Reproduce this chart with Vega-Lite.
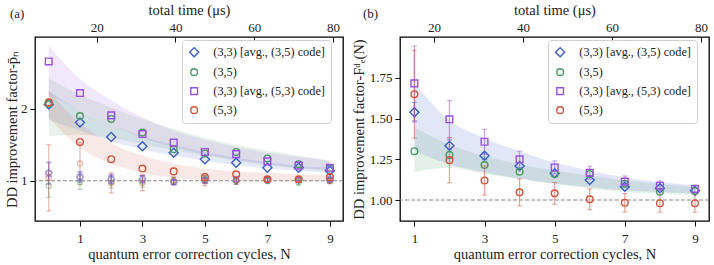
{
  "$schema": "https://vega.github.io/schema/vega-lite/v6.json",
  "background": "white",
  "padding": {"left": 3, "top": 1, "right": 0, "bottom": 0},
  "spacing": 5,
  "resolve": {"scale": {"color": "independent", "shape": "independent", "fill": "independent", "stroke": "independent"}},
  "config": {
    "font": "Liberation Serif",
    "view": {"stroke": "black", "strokeWidth": 1.3},
    "axis": {"grid": false, "domain": false, "tickColor": "black", "tickWidth": 1, "tickSize": 5,
      "labelFont": "Liberation Serif", "titleFont": "Liberation Serif", "labelFontSize": 13, "titleFontSize": 14.5,
      "titleFontWeight": "normal", "labelColor": "#222", "titleColor": "#222"},
    "legend": {"labelFont": "Liberation Serif"},
    "title": {"font": "Liberation Serif", "fontSize": 13, "fontWeight": "normal", "color": "#222"}
  },
  "datasets": {
    "timeTicks": [{"t": 20}, {"t": 40}, {"t": 60}, {"t": 80}],
    "one": [{"y": 1}],
    "bandA": [
      {"s":"b","N":0,"lo":1.85,"hi":2.25},{"s":"b","N":1,"lo":1.70,"hi":1.98},{"s":"b","N":2,"lo":1.55,"hi":1.78},{"s":"b","N":3,"lo":1.44,"hi":1.62},{"s":"b","N":4,"lo":1.35,"hi":1.50},{"s":"b","N":5,"lo":1.28,"hi":1.40},{"s":"b","N":6,"lo":1.22,"hi":1.32},{"s":"b","N":7,"lo":1.17,"hi":1.26},{"s":"b","N":8,"lo":1.14,"hi":1.21},{"s":"b","N":9,"lo":1.11,"hi":1.18},
      {"s":"g","N":0,"lo":1.62,"hi":2.42},{"s":"g","N":1,"lo":1.64,"hi":2.20},{"s":"g","N":2,"lo":1.60,"hi":2.02},{"s":"g","N":3,"lo":1.51,"hi":1.86},{"s":"g","N":4,"lo":1.43,"hi":1.72},{"s":"g","N":5,"lo":1.35,"hi":1.60},{"s":"g","N":6,"lo":1.28,"hi":1.50},{"s":"g","N":7,"lo":1.22,"hi":1.42},{"s":"g","N":8,"lo":1.17,"hi":1.35},{"s":"g","N":9,"lo":1.14,"hi":1.28},
      {"s":"p","N":0,"lo":2.20,"hi":2.88},{"s":"p","N":1,"lo":1.98,"hi":2.42},{"s":"p","N":2,"lo":1.78,"hi":2.12},{"s":"p","N":3,"lo":1.60,"hi":1.88},{"s":"p","N":4,"lo":1.47,"hi":1.70},{"s":"p","N":5,"lo":1.37,"hi":1.57},{"s":"p","N":6,"lo":1.29,"hi":1.47},{"s":"p","N":7,"lo":1.23,"hi":1.39},{"s":"p","N":8,"lo":1.18,"hi":1.33},{"s":"p","N":9,"lo":1.15,"hi":1.28},
      {"s":"r","N":0,"lo":1.88,"hi":2.25},{"s":"r","N":1,"lo":1.46,"hi":1.80},{"s":"r","N":2,"lo":1.24,"hi":1.52},{"s":"r","N":3,"lo":1.11,"hi":1.35},{"s":"r","N":4,"lo":1.04,"hi":1.24},{"s":"r","N":5,"lo":1.01,"hi":1.17},{"s":"r","N":6,"lo":1.00,"hi":1.13},{"s":"r","N":7,"lo":0.99,"hi":1.11},{"s":"r","N":8,"lo":0.99,"hi":1.09},{"s":"r","N":9,"lo":0.99,"hi":1.08}
    ],
    "ptsA": [
      {"s":"b","N":0,"v":2.06},{"s":"b","N":1,"v":1.81},{"s":"b","N":2,"v":1.61},{"s":"b","N":3,"v":1.48},{"s":"b","N":4,"v":1.39},{"s":"b","N":5,"v":1.30},{"s":"b","N":6,"v":1.25},{"s":"b","N":7,"v":1.18},{"s":"b","N":8,"v":1.18},{"s":"b","N":9,"v":1.14},
      {"s":"g","N":0,"v":2.07},{"s":"g","N":1,"v":1.90},{"s":"g","N":2,"v":1.86},{"s":"g","N":3,"v":1.67},{"s":"g","N":4,"v":1.44},{"s":"g","N":5,"v":1.38},{"s":"g","N":6,"v":1.40},{"s":"g","N":7,"v":1.31},{"s":"g","N":8,"v":1.23},{"s":"g","N":9,"v":1.17},
      {"s":"p","N":0,"v":2.66},{"s":"p","N":1,"v":2.22},{"s":"p","N":2,"v":1.91},{"s":"p","N":3,"v":1.65},{"s":"p","N":4,"v":1.53},{"s":"p","N":5,"v":1.40},{"s":"p","N":6,"v":1.37},{"s":"p","N":7,"v":1.27},{"s":"p","N":8,"v":1.21},{"s":"p","N":9,"v":1.18},
      {"s":"r","N":0,"v":2.09},{"s":"r","N":1,"v":1.54},{"s":"r","N":2,"v":1.30},{"s":"r","N":3,"v":1.17},{"s":"r","N":4,"v":1.13},{"s":"r","N":5,"v":1.05},{"s":"r","N":6,"v":1.09},{"s":"r","N":7,"v":1.02},{"s":"r","N":8,"v":1.02},{"s":"r","N":9,"v":1.05}
    ],
    "faintA": [
      {"s":"b","N":0,"v":1.11,"lo":0.96,"hi":1.26},{"s":"b","N":1,"v":1.05,"lo":0.98,"hi":1.12},{"s":"b","N":2,"v":1.02,"lo":0.96,"hi":1.08},{"s":"b","N":3,"v":1.02,"lo":0.97,"hi":1.07},{"s":"b","N":4,"v":0.98,"lo":0.95,"hi":1.01},{"s":"b","N":5,"v":1.01,"lo":0.97,"hi":1.05},{"s":"b","N":6,"v":1.00,"lo":0.97,"hi":1.03},{"s":"b","N":7,"v":1.01,"lo":0.98,"hi":1.04},{"s":"b","N":8,"v":1.01,"lo":0.98,"hi":1.04},{"s":"b","N":9,"v":1.01,"lo":0.98,"hi":1.04},
      {"s":"g","N":0,"v":0.93,"lo":0.77,"hi":1.09},{"s":"g","N":1,"v":0.98,"lo":0.88,"hi":1.08},{"s":"g","N":2,"v":0.98,"lo":0.90,"hi":1.06},{"s":"g","N":3,"v":0.99,"lo":0.91,"hi":1.07},{"s":"g","N":4,"v":1.00,"lo":0.95,"hi":1.05},{"s":"g","N":5,"v":1.02,"lo":0.97,"hi":1.07},{"s":"g","N":6,"v":1.00,"lo":0.95,"hi":1.05},{"s":"g","N":7,"v":1.00,"lo":0.96,"hi":1.04},{"s":"g","N":8,"v":0.98,"lo":0.94,"hi":1.02},{"s":"g","N":9,"v":1.00,"lo":0.96,"hi":1.04},
      {"s":"p","N":0,"v":1.10,"lo":0.95,"hi":1.25},{"s":"p","N":1,"v":1.06,"lo":0.99,"hi":1.13},{"s":"p","N":2,"v":1.03,"lo":0.97,"hi":1.09},{"s":"p","N":3,"v":1.03,"lo":0.98,"hi":1.08},{"s":"p","N":4,"v":0.98,"lo":0.95,"hi":1.01},{"s":"p","N":5,"v":1.00,"lo":0.96,"hi":1.04},{"s":"p","N":6,"v":1.02,"lo":0.99,"hi":1.05},{"s":"p","N":7,"v":1.02,"lo":0.99,"hi":1.05},{"s":"p","N":8,"v":1.01,"lo":0.98,"hi":1.04},{"s":"p","N":9,"v":1.02,"lo":0.99,"hi":1.05},
      {"s":"r","N":0,"v":1.04,"lo":0.58,"hi":1.50},{"s":"r","N":1,"v":1.24,"lo":0.95,"hi":1.53},{"s":"r","N":2,"v":0.97,"lo":0.83,"hi":1.11},{"s":"r","N":3,"v":0.97,"lo":0.86,"hi":1.08},{"s":"r","N":4,"v":1.00,"lo":0.95,"hi":1.05},{"s":"r","N":5,"v":1.00,"lo":0.93,"hi":1.07},{"s":"r","N":6,"v":1.00,"lo":0.95,"hi":1.05},{"s":"r","N":7,"v":1.01,"lo":0.97,"hi":1.05},{"s":"r","N":8,"v":1.02,"lo":0.98,"hi":1.06},{"s":"r","N":9,"v":1.00,"lo":0.96,"hi":1.04}
    ],
    "bandB": [
      {"s":"b","N":1,"lo":1.30,"hi":1.72},{"s":"b","N":2,"lo":1.22,"hi":1.49},{"s":"b","N":3,"lo":1.17,"hi":1.38},{"s":"b","N":4,"lo":1.13,"hi":1.30},{"s":"b","N":5,"lo":1.10,"hi":1.23},{"s":"b","N":6,"lo":1.08,"hi":1.18},{"s":"b","N":7,"lo":1.06,"hi":1.14},{"s":"b","N":8,"lo":1.05,"hi":1.11},{"s":"b","N":9,"lo":1.04,"hi":1.09},
      {"s":"g","N":1,"lo":1.17,"hi":1.445},{"s":"g","N":2,"lo":1.20,"hi":1.34},{"s":"g","N":3,"lo":1.16,"hi":1.27},{"s":"g","N":4,"lo":1.13,"hi":1.22},{"s":"g","N":5,"lo":1.10,"hi":1.18},{"s":"g","N":6,"lo":1.07,"hi":1.15},{"s":"g","N":7,"lo":1.05,"hi":1.12},{"s":"g","N":8,"lo":1.04,"hi":1.10},{"s":"g","N":9,"lo":1.03,"hi":1.08}
    ],
    "ptsB": [
      {"s":"b","N":1,"v":1.54},{"s":"b","N":2,"v":1.334},{"s":"b","N":3,"v":1.272},{"s":"b","N":4,"v":1.209},{"s":"b","N":5,"v":1.164},{"s":"b","N":6,"v":1.123},{"s":"b","N":7,"v":1.082},{"s":"b","N":8,"v":1.072},{"s":"b","N":9,"v":1.057},
      {"s":"g","N":1,"v":1.30},{"s":"g","N":2,"v":1.277},{"s":"g","N":3,"v":1.215},{"s":"g","N":4,"v":1.174},{"s":"g","N":5,"v":1.16},{"s":"g","N":6,"v":1.16},{"s":"g","N":7,"v":1.10},{"s":"g","N":8,"v":1.051},{"s":"g","N":9,"v":1.055},
      {"s":"p","N":1,"v":1.717},{"s":"p","N":2,"v":1.496},{"s":"p","N":3,"v":1.358},{"s":"p","N":4,"v":1.25},{"s":"p","N":5,"v":1.20},{"s":"p","N":6,"v":1.168},{"s":"p","N":7,"v":1.113},{"s":"p","N":8,"v":1.088},{"s":"p","N":9,"v":1.068},
      {"s":"r","N":1,"v":1.65},{"s":"r","N":2,"v":1.245},{"s":"r","N":3,"v":1.12},{"s":"r","N":4,"v":1.047},{"s":"r","N":5,"v":1.041},{"s":"r","N":6,"v":1.004},{"s":"r","N":7,"v":0.983},{"s":"r","N":8,"v":0.98},{"s":"r","N":9,"v":0.98}
    ],
    "errB": [
      {"s":"b","N":1,"lo":1.48,"hi":1.60},{"s":"b","N":2,"lo":1.30,"hi":1.37},{"s":"b","N":3,"lo":1.25,"hi":1.29},
      {"s":"p","N":1,"lo":1.487,"hi":1.947},{"s":"p","N":2,"lo":1.381,"hi":1.611},{"s":"p","N":3,"lo":1.282,"hi":1.434},{"s":"p","N":4,"lo":1.20,"hi":1.30},{"s":"p","N":5,"lo":1.16,"hi":1.24},{"s":"p","N":6,"lo":1.128,"hi":1.208},{"s":"p","N":7,"lo":1.078,"hi":1.148},{"s":"p","N":8,"lo":1.058,"hi":1.118},{"s":"p","N":9,"lo":1.043,"hi":1.093},
      {"s":"r","N":1,"lo":1.38,"hi":1.92},{"s":"r","N":2,"lo":1.105,"hi":1.385},{"s":"r","N":3,"lo":1.03,"hi":1.21},{"s":"r","N":4,"lo":0.964,"hi":1.13},{"s":"r","N":5,"lo":0.974,"hi":1.108},{"s":"r","N":6,"lo":0.94,"hi":1.068},{"s":"r","N":7,"lo":0.926,"hi":1.04},{"s":"r","N":8,"lo":0.925,"hi":1.035},{"s":"r","N":9,"lo":0.925,"hi":1.035}
    ]
  },
  "hconcat": [
    {
      "width": 308, "height": 184,
      "title": {"text": "(a)", "anchor": "start", "frame": "group", "dx": -25, "dy": 23},
      "layer": [
        {
          "layer": [
            {
              "data": {"name": "bandA"},
              "mark": {"type": "area", "opacity": 0.13, "interpolate": "monotone"},
              "encoding": {
                "x": {"field": "N", "type": "quantitative", "scale": {"domain": [-0.44, 9.42], "nice": false, "zero": false},
                  "axis": {"values": [1, 3, 5, 7, 9], "title": "quantum error correction cycles, N", "labelPadding": 6, "titlePadding": 2}},
                "y": {"field": "lo", "type": "quantitative", "scale": {"domain": [0.44, 3.0], "nice": false, "zero": false},
                  "axis": {"values": [1, 2], "format": "d", "title": "DD improvement factor-p̄ₙ", "labelPadding": 3, "titlePadding": 1}},
                "y2": {"field": "hi"},
                "fill": {"field": "s", "type": "nominal", "scale": {"domain": ["r", "p", "g", "b"], "range": ["#d0543c", "#9b50e0", "#4c9a63", "#3b5fc8"]}, "legend": null},
                "detail": {"field": "s"}
              }
            },
            {
              "data": {"name": "one"},
              "mark": {"type": "rule", "strokeDash": [4, 2], "color": "#888", "strokeWidth": 1},
              "encoding": {"y": {"field": "y", "type": "quantitative"}}
            },
            {
              "data": {"name": "faintA"},
              "mark": {"type": "rule", "strokeWidth": 1, "opacity": 0.5},
              "encoding": {
                "x": {"field": "N", "type": "quantitative"},
                "y": {"field": "lo", "type": "quantitative"},
                "y2": {"field": "hi"},
                "stroke": {"field": "s", "type": "nominal", "scale": {"domain": ["r", "p", "g", "b"], "range": ["#d0543c", "#9b50e0", "#4c9a63", "#3b5fc8"]}, "legend": null}
              }
            },
            {
              "data": {"name": "faintA"},
              "mark": {"type": "tick", "orient": "horizontal", "size": 5, "thickness": 1, "opacity": 0.5},
              "encoding": {
                "x": {"field": "N", "type": "quantitative"},
                "y": {"field": "lo", "type": "quantitative"},
                "fill": {"field": "s", "type": "nominal", "legend": null}
              }
            },
            {
              "data": {"name": "faintA"},
              "mark": {"type": "tick", "orient": "horizontal", "size": 5, "thickness": 1, "opacity": 0.5},
              "encoding": {
                "x": {"field": "N", "type": "quantitative"},
                "y": {"field": "hi", "type": "quantitative"},
                "fill": {"field": "s", "type": "nominal", "legend": null}
              }
            },
            {
              "data": {"name": "faintA"},
              "transform": [{"filter": "datum.s == 'b'"}],
              "mark": {"type": "point", "filled": false, "opacity": 0.45, "size": 28, "strokeWidth": 1.2, "color": "#3b5fc8", "shape": "M0,-1.35L1.35,0L0,1.35L-1.35,0Z"},
              "encoding": {"x": {"field": "N", "type": "quantitative"}, "y": {"field": "v", "type": "quantitative"}}
            },
            {
              "data": {"name": "faintA"},
              "transform": [{"filter": "datum.s == 'g'"}],
              "mark": {"type": "point", "filled": false, "opacity": 0.45, "size": 28, "strokeWidth": 1.2, "color": "#4c9a63", "shape": "circle"},
              "encoding": {"x": {"field": "N", "type": "quantitative"}, "y": {"field": "v", "type": "quantitative"}}
            },
            {
              "data": {"name": "faintA"},
              "transform": [{"filter": "datum.s == 'p'"}],
              "mark": {"type": "point", "filled": false, "opacity": 0.45, "size": 28, "strokeWidth": 1.2, "color": "#9b50e0", "shape": "square"},
              "encoding": {"x": {"field": "N", "type": "quantitative"}, "y": {"field": "v", "type": "quantitative"}}
            },
            {
              "data": {"name": "faintA"},
              "transform": [{"filter": "datum.s == 'r'"}],
              "mark": {"type": "point", "filled": false, "opacity": 0.45, "size": 28, "strokeWidth": 1.2, "color": "#d0543c", "shape": "circle"},
              "encoding": {"x": {"field": "N", "type": "quantitative"}, "y": {"field": "v", "type": "quantitative"}}
            },
            {
              "data": {"name": "ptsA"},
              "mark": {"type": "point", "filled": false, "size": 45, "strokeWidth": 1.4, "opacity": 1},
              "encoding": {
                "x": {"field": "N", "type": "quantitative"},
                "y": {"field": "v", "type": "quantitative"},
                "color": {"field": "s", "type": "nominal", "scale": {"domain": ["b", "g", "p", "r"], "range": ["#3b5fc8", "#4c9a63", "#9b50e0", "#d0543c"]},
                  "legend": {"title": null, "orient": "none", "legendX": 147, "legendY": 3, "padding": 6, "rowPadding": 5, "labelOffset": 13,
                    "strokeColor": "#d0d0d0", "cornerRadius": 3, "fillColor": "rgba(255,255,255,0.85)", "symbolSize": 45, "symbolStrokeWidth": 1.4,
                    "labelFontSize": 12.3, "labelFont": "Liberation Serif", "labelColor": "#222",
                    "labelExpr": "datum.label == 'b' ? '(3,3) [avg., (3,5) code]' : datum.label == 'g' ? '(3,5)' : datum.label == 'p' ? '(3,3) [avg., (5,3) code]' : '(5,3)'"}},
                "shape": {"field": "s", "type": "nominal", "scale": {"domain": ["b", "g", "p", "r"], "range": ["M0,-1.35L1.35,0L0,1.35L-1.35,0Z", "circle", "square", "circle"]},
                  "legend": {"title": null, "orient": "none", "legendX": 147, "legendY": 3, "padding": 6, "rowPadding": 5, "labelOffset": 13,
                    "strokeColor": "#d0d0d0", "cornerRadius": 3, "fillColor": "rgba(255,255,255,0.85)", "symbolSize": 45, "symbolStrokeWidth": 1.4,
                    "labelFontSize": 12.3, "labelFont": "Liberation Serif", "labelColor": "#222",
                    "labelExpr": "datum.label == 'b' ? '(3,3) [avg., (3,5) code]' : datum.label == 'g' ? '(3,5)' : datum.label == 'p' ? '(3,3) [avg., (5,3) code]' : '(5,3)'"}}
              }
            }
          ]
        },
        {
          "data": {"name": "timeTicks"},
          "mark": {"type": "point", "opacity": 0},
          "encoding": {
            "x": {"field": "t", "type": "quantitative", "scale": {"domain": [4.33, 82.54], "nice": false, "zero": false},
              "axis": {"orient": "top", "values": [20, 40, 60, 80], "title": "total time (μs)", "tickSize": -5, "labelPadding": 8, "titlePadding": 4}}
          }
        }
      ],
      "resolve": {"scale": {"x": "independent"}}
    },
    {
      "width": 309, "height": 184,
      "title": {"text": "(b)", "anchor": "start", "frame": "group", "dx": -37, "dy": 23},
      "layer": [
        {
          "layer": [
            {
              "data": {"name": "bandB"},
              "mark": {"type": "area", "opacity": 0.15, "interpolate": "monotone"},
              "encoding": {
                "x": {"field": "N", "type": "quantitative", "scale": {"domain": [0.59, 9.4], "nice": false, "zero": false},
                  "axis": {"values": [1, 3, 5, 7, 9], "title": "quantum error correction cycles, N", "labelPadding": 6, "titlePadding": 2}},
                "y": {"field": "lo", "type": "quantitative", "scale": {"domain": [0.871, 2.002], "nice": false, "zero": false},
                  "axis": {"values": [1.0, 1.25, 1.5, 1.75], "format": ".2f", "title": "DD improvement factor-Fᵈₑ(N)", "labelPadding": 3, "titlePadding": 3}},
                "y2": {"field": "hi"},
                "fill": {"field": "s", "type": "nominal", "scale": {"domain": ["r", "p", "g", "b"], "range": ["#d0543c", "#9b50e0", "#4c9a63", "#3b5fc8"]}, "legend": null},
                "detail": {"field": "s"}
              }
            },
            {
              "data": {"name": "one"},
              "mark": {"type": "rule", "strokeDash": [4, 2], "color": "#888", "strokeWidth": 1},
              "encoding": {"y": {"field": "y", "type": "quantitative"}}
            },
            {
              "data": {"name": "errB"},
              "mark": {"type": "rule", "strokeWidth": 1.2, "opacity": 0.55},
              "encoding": {
                "x": {"field": "N", "type": "quantitative"},
                "y": {"field": "lo", "type": "quantitative"},
                "y2": {"field": "hi"},
                "stroke": {"field": "s", "type": "nominal", "scale": {"domain": ["r", "p", "g", "b"], "range": ["#d0543c", "#9b50e0", "#4c9a63", "#3b5fc8"]}, "legend": null}
              }
            },
            {
              "data": {"name": "errB"},
              "mark": {"type": "tick", "orient": "horizontal", "size": 5, "thickness": 1, "opacity": 0.55},
              "encoding": {
                "x": {"field": "N", "type": "quantitative"},
                "y": {"field": "lo", "type": "quantitative"},
                "fill": {"field": "s", "type": "nominal", "legend": null}
              }
            },
            {
              "data": {"name": "errB"},
              "mark": {"type": "tick", "orient": "horizontal", "size": 5, "thickness": 1, "opacity": 0.55},
              "encoding": {
                "x": {"field": "N", "type": "quantitative"},
                "y": {"field": "hi", "type": "quantitative"},
                "fill": {"field": "s", "type": "nominal", "legend": null}
              }
            },
            {
              "data": {"name": "ptsB"},
              "mark": {"type": "point", "filled": false, "size": 45, "strokeWidth": 1.4, "opacity": 1},
              "encoding": {
                "x": {"field": "N", "type": "quantitative"},
                "y": {"field": "v", "type": "quantitative"},
                "color": {"field": "s", "type": "nominal", "scale": {"domain": ["b", "g", "p", "r"], "range": ["#3b5fc8", "#4c9a63", "#9b50e0", "#d0543c"]},
                  "legend": {"title": null, "orient": "none", "legendX": 148, "legendY": 3, "padding": 6, "rowPadding": 5, "labelOffset": 13,
                    "strokeColor": "#d0d0d0", "cornerRadius": 3, "fillColor": "rgba(255,255,255,0.85)", "symbolSize": 45, "symbolStrokeWidth": 1.4,
                    "labelFontSize": 12.3, "labelFont": "Liberation Serif", "labelColor": "#222",
                    "labelExpr": "datum.label == 'b' ? '(3,3) [avg., (3,5) code]' : datum.label == 'g' ? '(3,5)' : datum.label == 'p' ? '(3,3) [avg., (5,3) code]' : '(5,3)'"}},
                "shape": {"field": "s", "type": "nominal", "scale": {"domain": ["b", "g", "p", "r"], "range": ["M0,-1.35L1.35,0L0,1.35L-1.35,0Z", "circle", "square", "circle"]},
                  "legend": {"title": null, "orient": "none", "legendX": 148, "legendY": 3, "padding": 6, "rowPadding": 5, "labelOffset": 13,
                    "strokeColor": "#d0d0d0", "cornerRadius": 3, "fillColor": "rgba(255,255,255,0.85)", "symbolSize": 45, "symbolStrokeWidth": 1.4,
                    "labelFontSize": 12.3, "labelFont": "Liberation Serif", "labelColor": "#222",
                    "labelExpr": "datum.label == 'b' ? '(3,3) [avg., (3,5) code]' : datum.label == 'g' ? '(3,5)' : datum.label == 'p' ? '(3,3) [avg., (5,3) code]' : '(5,3)'"}}
              }
            }
          ]
        },
        {
          "data": {"name": "timeTicks"},
          "mark": {"type": "point", "opacity": 0},
          "encoding": {
            "x": {"field": "t", "type": "quantitative", "scale": {"domain": [12.36, 81.8], "nice": false, "zero": false},
              "axis": {"orient": "top", "values": [20, 40, 60, 80], "title": "total time (μs)", "tickSize": -5, "labelPadding": 8, "titlePadding": 4}}
          }
        }
      ],
      "resolve": {"scale": {"x": "independent"}}
    }
  ]
}
